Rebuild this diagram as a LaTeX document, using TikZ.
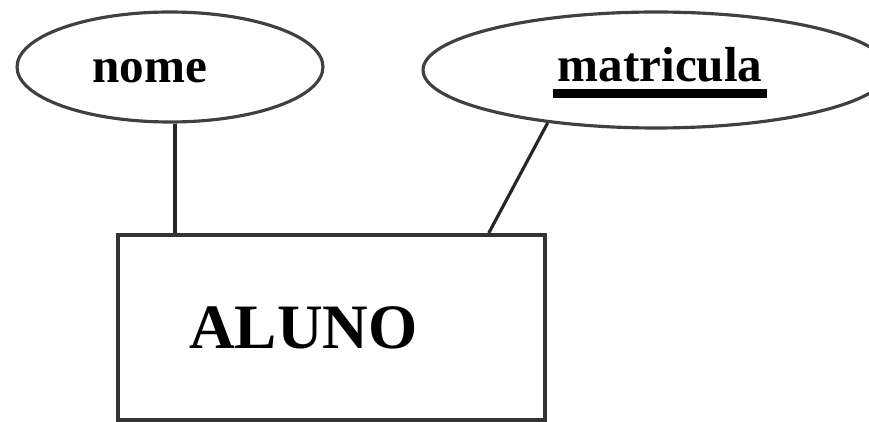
\documentclass[tikz,border=0pt]{standalone}
\usepackage{fontspec}
\setmainfont{Liberation Serif}
\usetikzlibrary{shapes.geometric}
\begin{document}
\begin{tikzpicture}[x=0.02cm,y=-0.02cm,
    attr/.style={ellipse,draw=black!75,line width=1.8pt},
    ent/.style={rectangle,draw=black!80,line width=2.3pt,minimum width=8.54cm,minimum height=3.7cm},
    lbl/.style={anchor=base,font=\bfseries\fontsize{28}{30}\selectfont,inner sep=0.08cm},
    link/.style={draw=black!85,line width=1.8pt}]
  \useasboundingbox (0,0) rectangle (869,422);
  \node[attr,minimum width=6.12cm,minimum height=2.2cm] (nome) at (170,67) {};
  \node[attr,minimum width=9.32cm,minimum height=2.32cm] (matricula) at (656,70) {};
  \node[ent] (aluno) at (331.5,327.5) {};
  \node[lbl] (nometxt) at (150,83) {nome};
  \node[lbl] (matrtxt) at (660,82) {matricula};
  \node[lbl,font=\bfseries\fontsize{36}{40}\selectfont] (alunotxt) at (303.5,348) {ALUNO};
  \draw[line width=0.18cm] ([yshift=-0.23cm]matrtxt.base west) -- ([yshift=-0.23cm]matrtxt.base east);
  \draw[link] (nome.275) -- (nome.275 |- aluno.north);
  \draw[link] (matricula.206) -- (aluno.31.2);
\end{tikzpicture}
\end{document}
